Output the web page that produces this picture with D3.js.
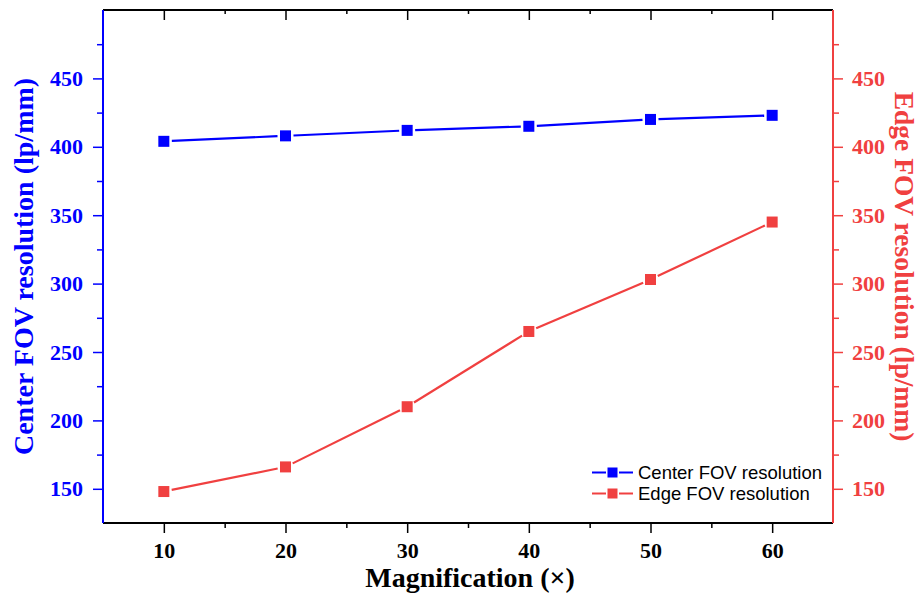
<!DOCTYPE html>
<html><head><meta charset="utf-8">
<script src="https://cdn.jsdelivr.net/npm/d3@7"></script>
<style>body{margin:0;background:#fff}svg{display:block}</style>
</head><body>
<script>
const magnification = [10, 20, 30, 40, 50, 60];
const centerFOV = [404, 408, 412, 415, 420, 423];
const edgeFOV = [148, 166, 210, 265, 303, 345];
const xTicks = [10, 20, 30, 40, 50, 60];
const yTicks = [150, 200, 250, 300, 350, 400, 450];

const W = 922, H = 596;
const m = {left: 103, right: 89, top: 10, bottom: 73};
const BLUE = "#0000FF", RED = "#F04040";
const svg = d3.select("body").append("svg").attr("width", W).attr("height", H);

const x = d3.scaleLinear().domain([5, 65]).range([m.left, W - m.right]);
const yL = d3.scaleLinear().domain([125, 500]).range([H - m.bottom, m.top]);
const yR = d3.scaleLinear().domain([125, 500]).range([H - m.bottom, m.top]);

const serif = "'Liberation Serif','Times New Roman',serif";
const minorX = d3.range(15, 65, 10);
const minorY = d3.range(125, 500, 50).filter(v => v > 125);
const TICKFS = 22, TITLEFS = 28;

// bottom axis
const gB = svg.append("g").attr("transform", `translate(0,${H - m.bottom})`);
gB.call(d3.axisBottom(x).tickValues(xTicks).tickSize(10).tickPadding(9).tickFormat(d3.format("d")));
gB.append("g").call(d3.axisBottom(x).tickValues(minorX).tickSize(5).tickFormat(""));
gB.selectAll(".domain").attr("stroke", "#000").attr("stroke-width", 2).attr("d", `M${m.left},0H${W - m.right}`);
gB.selectAll("line").attr("stroke", "#000").attr("stroke-width", 1.5);
gB.selectAll("text").attr("font-family", serif).attr("font-weight", "bold").attr("font-size", TICKFS).attr("fill", "#000");

// top axis
const gT = svg.append("g").attr("transform", `translate(0,${m.top})`);
gT.call(d3.axisBottom(x).tickValues(xTicks).tickSize(10).tickFormat(""));
gT.append("g").call(d3.axisBottom(x).tickValues(minorX).tickSize(4).tickFormat(""));
gT.selectAll(".domain").attr("stroke", "#000").attr("stroke-width", 2).attr("d", `M${m.left},0H${W - m.right}`);
gT.selectAll("line").attr("stroke", "#000").attr("stroke-width", 1.5);

// left axis
const gL = svg.append("g").attr("transform", `translate(${m.left},0)`);
gL.call(d3.axisLeft(yL).tickValues(yTicks).tickSize(10).tickPadding(10));
gL.append("g").call(d3.axisLeft(yL).tickValues(minorY).tickSize(6).tickFormat(""));
gL.selectAll(".domain").attr("stroke", BLUE).attr("stroke-width", 2).attr("d", `M0,${m.top}V${H - m.bottom}`);
gL.selectAll("line").attr("stroke", BLUE).attr("stroke-width", 1.5);
gL.selectAll("text").attr("font-family", serif).attr("font-weight", "bold").attr("font-size", TICKFS).attr("fill", BLUE);

// right axis
const gR = svg.append("g").attr("transform", `translate(${W - m.right},0)`);
gR.call(d3.axisRight(yR).tickValues(yTicks).tickSize(10).tickPadding(9));
gR.append("g").call(d3.axisRight(yR).tickValues(minorY).tickSize(6).tickFormat(""));
gR.selectAll(".domain").attr("stroke", RED).attr("stroke-width", 2).attr("d", `M0,${m.top}V${H - m.bottom}`);
gR.selectAll("line").attr("stroke", RED).attr("stroke-width", 1.5);
gR.selectAll("text").attr("font-family", serif).attr("font-weight", "bold").attr("font-size", TICKFS).attr("fill", RED);

// axis titles
svg.append("text").attr("x", (m.left + W - m.right) / 2 + 2).attr("y", 587)
  .attr("text-anchor", "middle").attr("font-family", serif).attr("font-weight", "bold")
  .attr("font-size", TITLEFS).attr("fill", "#000").text("Magnification (×)");
const midY = (m.top + H - m.bottom) / 2;
svg.append("text").attr("transform", `translate(33,${midY}) rotate(-90)`)
  .attr("text-anchor", "middle").attr("font-family", serif).attr("font-weight", "bold")
  .attr("font-size", TITLEFS).attr("fill", BLUE).text("Center FOV resolution (lp/mm)");
svg.append("text").attr("transform", `translate(895,${midY}) rotate(90)`)
  .attr("text-anchor", "middle").attr("font-family", serif).attr("font-weight", "bold")
  .attr("font-size", 27.5).attr("fill", RED).text("Edge FOV resolution (lp/mm)");

// series with gaps around markers
function drawSeries(vals, y, color) {
  const pts = magnification.map((d, i) => [x(d), y(vals[i])]);
  const gap = 8;
  const g = svg.append("g");
  for (let i = 0; i < pts.length - 1; i++) {
    const [x1, y1] = pts[i], [x2, y2] = pts[i + 1];
    const dx = x2 - x1, dy = y2 - y1, L = Math.hypot(dx, dy);
    const ux = dx / L, uy = dy / L;
    g.append("line").attr("x1", x1 + ux * gap).attr("y1", y1 + uy * gap)
      .attr("x2", x2 - ux * gap).attr("y2", y2 - uy * gap)
      .attr("stroke", color).attr("stroke-width", 2.2);
  }
  g.selectAll("rect").data(pts).join("rect")
    .attr("x", d => d[0] - 5.5).attr("y", d => d[1] - 5.5)
    .attr("width", 11).attr("height", 11).attr("fill", color);
}
drawSeries(centerFOV, yL, BLUE);
drawSeries(edgeFOV, yR, RED);

// legend
const legend = [["Center FOV resolution", BLUE], ["Edge FOV resolution", RED]];
const lg = svg.append("g");
legend.forEach(([t, c], i) => {
  const yy = 472.5 + i * 21;
  lg.append("line").attr("x1", 592).attr("x2", 606).attr("y1", yy).attr("y2", yy).attr("stroke", c).attr("stroke-width", 2);
  lg.append("line").attr("x1", 619).attr("x2", 633).attr("y1", yy).attr("y2", yy).attr("stroke", c).attr("stroke-width", 2);
  lg.append("rect").attr("x", 607.5).attr("y", yy - 5).attr("width", 10).attr("height", 10).attr("fill", c);
  lg.append("text").attr("x", 638).attr("y", yy + 6.5).attr("font-family", "'Liberation Sans',Arial,sans-serif")
    .attr("font-size", 18.5).attr("fill", "#000").text(t);
});
</script>
</body></html>
